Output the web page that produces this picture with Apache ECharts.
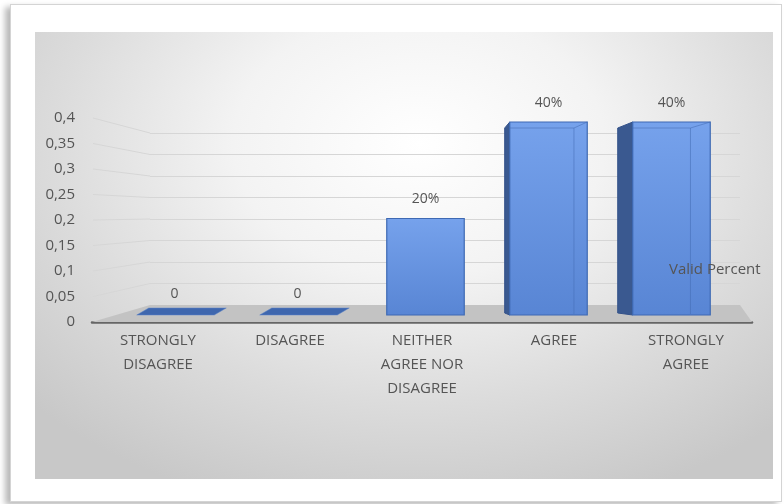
<!DOCTYPE html>
<html>
<head>
<meta charset="utf-8">
<script src="https://cdn.jsdelivr.net/npm/echarts@6/dist/echarts.min.js"></script>
<style>
  html, body { margin: 0; padding: 0; background: #fff; }
  #wrap { position: relative; width: 784px; height: 504px; overflow: hidden; }
  .frame { position: absolute; left: 10px; top: 4px; width: 770px; height: 496px;
    border: 1px solid #d4d4d4; background: #fff; box-shadow: -5px 3px 6px rgba(0,0,0,0.28); }
  .panel { position: absolute; left: 35px; top: 32px; width: 738px; height: 447px;
    background: radial-gradient(ellipse 72% 85% at 52% 25%, #ffffff 0%, #f3f3f3 35%, #dcdcdc 68%, #c8c8c8 100%); }
  #chart { position: absolute; left: 0; top: 0; width: 784px; height: 504px; }
</style>
</head>
<body>
<div id="wrap">
  <div class="frame"></div>
  <div class="panel"></div>
  <div id="chart"></div>
</div>
<script>
const categories = ["STRONGLY\nDISAGREE", "DISAGREE", "NEITHER\nAGREE NOR\nDISAGREE", "AGREE", "STRONGLY\nAGREE"];
const validPercent = [0, 0, 0.2, 0.4, 0.4];
const barLabels = ["0", "0", "20%", "40%", "40%"];
const yMin = 0;
const yMax = 0.4;
const yStep = 0.05;
const seriesName = "Valid Percent";

const textColor = "#555555";
const fontFamily = '"Open Sans", "Noto Sans", sans-serif';

const chart = echarts.init(document.getElementById("chart"));

// perspective helpers (style only)
const vanishX = 486;
const depthK = 0.081;

function renderBar(params, api) {
  const idx = params.dataIndex;
  const v = api.value(1);
  const base = api.coord([idx, 0]);
  const top = api.coord([idx, v]);
  const w = api.size([1, 0])[0] * 0.63;
  const x0 = base[0] - w / 2;
  const x1 = base[0] + w / 2;
  const children = [];
  let labelY;
  if (v === 0) {
    const skew = 12;
    children.push({
      type: "polygon",
      shape: { points: [[x0 - 4, base[1]], [x1 - 4, base[1]], [x1 + skew - 4, base[1] - 7], [x0 + skew - 4, base[1] - 7]] },
      style: { fill: "#3f67ae", stroke: "#5a82c8", lineWidth: 0.5 },
    });
    labelY = base[1] - 21;
  } else {
    const depth = (base[0] - vanishX) * depthK;
    if (depth > 0) {
      children.push({
        type: "polygon",
        shape: { points: [[x0, top[1]], [x0 - depth, top[1] + 6], [x0 - depth, base[1] - 2], [x0, base[1]]] },
        style: { fill: "#3a5990", stroke: "#34528a", lineWidth: 1 },
      });
    }
    children.push({
      type: "rect",
      shape: { x: x0, y: top[1], width: w, height: base[1] - top[1] },
      style: {
        fill: new echarts.graphic.LinearGradient(0, 0, 0, 1, [
          { offset: 0, color: "#76a2ec" },
          { offset: 1, color: "#5885d4" },
        ]),
        stroke: "#3e69b3",
        lineWidth: 1.2,
      },
    });
    if (depth > 0) {
      const e = 10 + depth * 0.65;
      children.push({
        type: "polyline",
        shape: { points: [[x0, top[1] + 6], [x1 - e, top[1] + 6], [x1 - e, base[1] - 1]] },
        style: { fill: null, stroke: "rgba(70,110,180,0.55)", lineWidth: 1 },
      });
      children.push({
        type: "line",
        shape: { x1: x1 - e, y1: top[1] + 6, x2: x1, y2: top[1] },
        style: { stroke: "rgba(70,110,180,0.55)", lineWidth: 1 },
      });
    }
    labelY = top[1] - 19;
  }
  children.push({
    type: "text",
    style: {
      text: barLabels[idx],
      x: base[0] - (v === 0 ? 5 : 0),
      y: labelY,
      align: "center",
      verticalAlign: "middle",
      fill: textColor,
      font: "14px " + fontFamily,
    },
  });
  return { type: "group", children: children };
}

const option = {
  backgroundColor: "transparent",
  animation: false,
  textStyle: { fontFamily: fontFamily },
  legend: {
    data: [seriesName],
    left: 664,
    top: 262,
    padding: 0,
    icon: "none",
    itemWidth: 0,
    itemHeight: 0,
    selectedMode: false,
    textStyle: { color: textColor, fontSize: 15, fontFamily: fontFamily },
  },
  grid: [
    // bars (front plane)
    { left: 118, top: 122, width: 615, height: 193 },
    // back wall gridlines
    { left: 150, top: 133, width: 590, height: 172 },
    // front axis with labels
    { left: 92, top: 118, width: 660, height: 204 },
  ],
  xAxis: [
    { type: "category", gridIndex: 0, data: categories, show: false },
    { type: "category", gridIndex: 1, data: categories, show: false },
    {
      type: "category",
      gridIndex: 2,
      data: categories,
      axisLine: { show: true, lineStyle: { color: "#666666", width: 2.5 } },
      axisTick: { show: false },
      axisLabel: {
        interval: 0,
        margin: 7,
        color: textColor,
        fontSize: 15,
        lineHeight: 24,
        fontFamily: fontFamily,
      },
    },
  ],
  yAxis: [
    { type: "value", gridIndex: 0, min: yMin, max: yMax, interval: yStep, show: false },
    {
      type: "value",
      gridIndex: 1,
      min: yMin,
      max: yMax,
      interval: yStep,
      axisLine: { show: false },
      axisTick: { show: false },
      axisLabel: { show: false },
      splitLine: { show: true, lineStyle: { color: "#d6d6d6", width: 1 } },
    },
    {
      type: "value",
      gridIndex: 2,
      min: yMin,
      max: yMax,
      interval: yStep,
      axisLine: { show: false },
      axisTick: { show: false },
      splitLine: { show: false },
      axisLabel: {
        margin: 17,
        color: textColor,
        fontSize: 15,
        fontFamily: fontFamily,
        formatter: (val) => String(+val.toFixed(2)).replace(".", ","),
      },
    },
  ],
  series: [
    {
      name: seriesName,
      type: "custom",
      xAxisIndex: 0,
      yAxisIndex: 0,
      z: 3,
      renderItem: renderBar,
      data: validPercent.map((v, i) => [i, v]),
    },
  ],
};

chart.setOption(option);

// floor and the slanted left ends of the gridlines
const floorFront = chart.convertToPixel({ yAxisIndex: 2 }, 0);
const floorBack = chart.convertToPixel({ yAxisIndex: 1 }, 0);
const gfx = [
  {
    type: "polygon",
    z: 1,
    shape: { points: [[92, floorFront], [752, floorFront], [740, floorBack], [150, floorBack]] },
    style: { fill: "#c3c3c3" },
  },
];
for (let v = yMin + yStep; v <= yMax + 1e-9; v += yStep) {
  const yf = chart.convertToPixel({ yAxisIndex: 2 }, v);
  const yb = chart.convertToPixel({ yAxisIndex: 1 }, v);
  gfx.push({
    type: "line",
    z: 0,
    shape: { x1: 93, y1: yf, x2: 150, y2: yb },
    style: { stroke: "#d6d6d6", lineWidth: 1 },
  });
}
chart.setOption({ graphic: gfx });
</script>
</body>
</html>
